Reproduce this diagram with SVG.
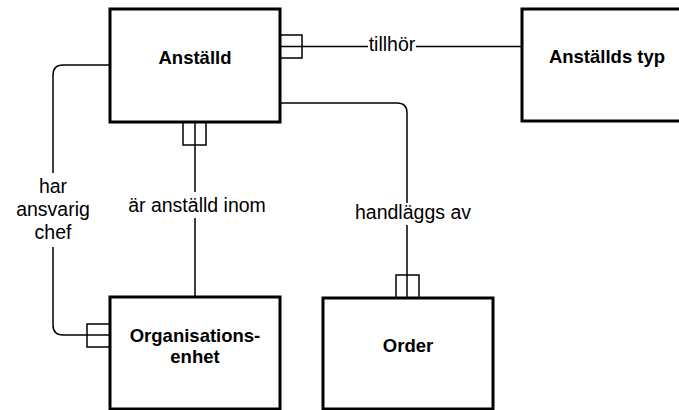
<svg xmlns="http://www.w3.org/2000/svg" width="679" height="410" viewBox="0 0 679 410">
<style>
.box{fill:#fff;stroke:#000;stroke-width:3}
.nt{font-family:"Liberation Sans",Arial,sans-serif;font-weight:bold;font-size:18.5px;text-anchor:middle;fill:#000}
.lt{font-family:"Liberation Sans",Arial,sans-serif;font-size:19.5px;text-anchor:middle;fill:#000}
.ln{fill:none;stroke:#000;stroke-width:1.5}
.cf{fill:#fff;stroke:#000;stroke-width:1.5}
</style>
<rect width="679" height="410" fill="#fff"/>
<g id="connectors">
<path class="ln" d="M280,46.5 H368 M416,46.5 H522"/>
<rect class="cf" x="280" y="35" width="22" height="23"/>
<path class="ln" d="M280,46.5 H302"/>
<text class="lt" x="392" y="51">tillhör</text>
<path class="ln" d="M280,103 H397 Q407,103 407,113 V203 M407,225 V298"/>
<rect class="cf" x="396" y="275" width="23" height="23"/>
<path class="ln" d="M407,275 V298"/>
<text class="lt" x="413" y="219">handläggs av</text>
<path class="ln" d="M195,122 V192 M195,218 V297"/>
<rect class="cf" x="183" y="122" width="23" height="23"/>
<path class="ln" d="M195,122 V145"/>
<text class="lt" x="197" y="212">är anställd inom</text>
<path class="ln" d="M110,65 H63 Q53,65 53,75 V173 M53,247 V325 Q53,335 63,335 H110"/>
<rect class="cf" x="87" y="324" width="23" height="23"/>
<path class="ln" d="M87,335 H110"/>
<text class="lt" x="53" y="193">har</text>
<text class="lt" x="53" y="216">ansvarig</text>
<text class="lt" x="53" y="239">chef</text>
</g>
<g id="anstalld">
<rect class="box" x="110" y="9" width="170" height="113"/>
<text class="nt" x="195" y="64">Anställd</text>
</g>
<g id="anstallds-typ">
<rect class="box" x="522" y="9" width="170" height="112"/>
<text class="nt" x="607" y="63">Anställds typ</text>
</g>
<g id="organisationsenhet">
<rect class="box" x="110" y="297" width="170" height="112"/>
<text class="nt" x="195" y="342">Organisations-</text>
<text class="nt" x="195" y="363">enhet</text>
</g>
<g id="order">
<rect class="box" x="323" y="298" width="170" height="111"/>
<text class="nt" x="408" y="352">Order</text>
</g>
</svg>
